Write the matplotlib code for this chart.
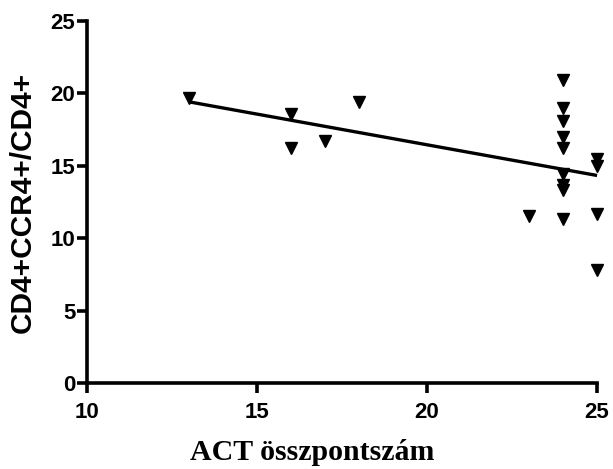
import numpy as np
import matplotlib
matplotlib.use("Agg")
import matplotlib.pyplot as plt

# Data
act_score = [13, 16, 16, 17, 18, 23,
             24, 24, 24, 24, 24, 24, 24, 24, 24,
             25, 25, 25, 25]
ccr4_pct = [19.7, 18.55, 16.2, 16.7, 19.4, 11.55,
            20.9, 19.0, 18.1, 17.0, 16.2, 14.4, 13.7, 13.3, 11.3,
            15.5, 15.0, 11.7, 7.8]
x_ticks = [10, 15, 20, 25]
y_ticks = [0, 5, 10, 15, 20, 25]

fig = plt.figure(figsize=(6.13, 4.69), dpi=100)
ax = fig.add_axes([0.1420, 0.1834, 0.832, 0.7719])

x = np.array(act_score, dtype=float)
y = np.array(ccr4_pct, dtype=float)
ax.plot(x, y, linestyle="none", marker="v", markersize=9, color="black",
        clip_on=False, zorder=3)

slope, intercept = np.polyfit(x, y, 1)
xl = np.array([x.min(), x.max()])
ax.plot(xl, slope * xl + intercept, color="black", linewidth=2.4,
        solid_capstyle="butt", clip_on=False, zorder=2)

ax.set_xlim(10, 25)
ax.set_ylim(0, 25)
ax.set_xticks(x_ticks)
ax.set_yticks(y_ticks)
ax.spines["top"].set_visible(False)
ax.spines["right"].set_visible(False)
for s in ("left", "bottom"):
    ax.spines[s].set_linewidth(2.6)
ax.tick_params(axis="both", direction="out", length=7, width=2.6,
               labelsize=16)
ax.tick_params(axis="x", pad=7)
ax.tick_params(axis="y", pad=1.5)
for lab in ax.get_xticklabels() + ax.get_yticklabels():
    lab.set_fontfamily("Liberation Sans")
    lab.set_fontweight("bold")

ax.set_xlabel("ACT összpontszám", fontfamily="Liberation Serif",
              fontweight="bold", fontsize=21.5)
ax.xaxis.set_label_coords(0.441, -0.155)
ax.set_ylabel("CD4+CCR4+/CD4+", fontfamily="Liberation Sans",
              fontweight="bold", fontsize=21.5, labelpad=10)

fig.savefig("out.png", dpi=100)
